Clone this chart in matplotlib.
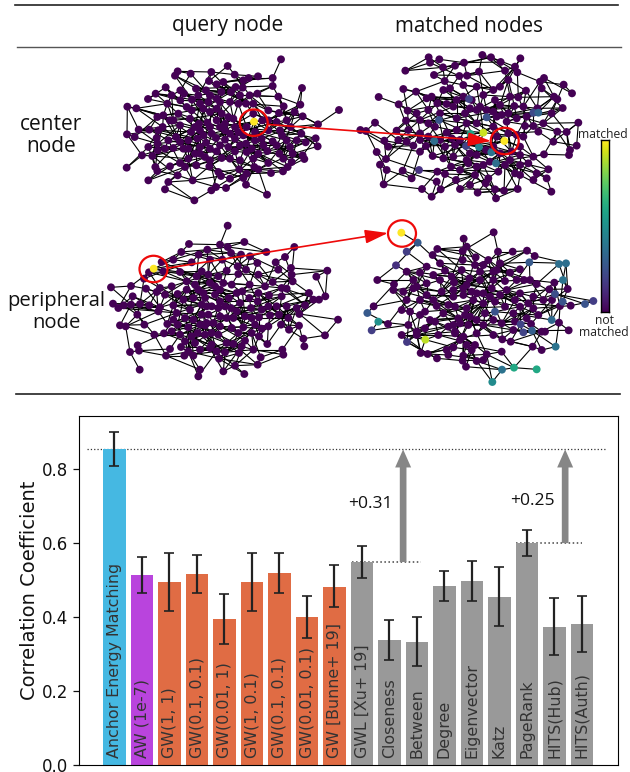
import numpy as np
import matplotlib
matplotlib.use("Agg")
import matplotlib.pyplot as plt
from matplotlib.patches import Ellipse

W, H = 630, 772
# ---------- bar chart data ----------
labels = ["Anchor Energy Matching", "AW (1e-7)", "GW(1, 1)", "GW(0.1, 0.1)", "GW(0.01, 1)", "GW(1, 0.1)",
          "GW(0.1, 0.1)", "GW(0.01, 0.1)", "GW [Bunne+ 19]", "GWL [Xu+ 19]", "Closeness", "Between",
          "Degree", "Eigenvector", "Katz", "PageRank", "HITS(Hub)", "HITS(Auth)"]
values = [0.853, 0.514, 0.495, 0.517, 0.395, 0.495, 0.519, 0.400, 0.481, 0.549, 0.338, 0.333,
          0.484, 0.498, 0.454, 0.600, 0.373, 0.382]
err_low = [0.809, 0.466, 0.416, 0.466, 0.327, 0.416, 0.466, 0.345, 0.427, 0.505, 0.284, 0.268,
           0.444, 0.443, 0.376, 0.566, 0.298, 0.306]
err_high = [0.900, 0.563, 0.572, 0.567, 0.462, 0.572, 0.574, 0.457, 0.540, 0.593, 0.393, 0.400,
            0.525, 0.552, 0.536, 0.635, 0.451, 0.456]
colors = ["#45B8E2", "#B944DD"] + ["#E06C44"] * 7 + ["#999999"] * 9

# ---------- network data (node positions, in crop pixels) ----------
g1 = [(483,22),(323,42),(173,58),(165,71),(212,65),(274,60),(344,68),(386,78),(370,85),(414,73),(458,78),(267,87),(228,110),(137,106),(107,125),(84,141),(22,164),(49,169),(155,130),(181,115),(192,125),(216,143),(258,115),(290,97),(310,90),(333,120),(347,105),(368,107),(458,102),(546,108),(475,134),(412,125),(389,130),(304,120),(270,130),(240,155),(142,155),(181,145),(200,165),(112,195),(130,190),(150,205),(175,185),(215,175),(250,170),(290,170),(300,150),(355,155),(378,155),(400,155),(445,175),(491,163),(541,158),(524,180),(548,193),(477,183),(657,174),(594,217),(427,205),(400,185),(380,225),(340,200),(315,215),(290,205),(262,212),(237,215),(210,200),(160,205),(88,233),(56,233),(21,247),(44,255),(115,235),(128,225),(180,220),(213,240),(240,235),(275,245),(315,235),(345,225),(405,240),(445,235),(480,235),(512,225),(544,245),(587,259),(593,283),(557,271),(530,265),(486,250),(458,268),(425,260),(405,265),(378,275),(345,260),(315,263),(288,258),(258,272),(232,260),(205,265),(168,255),(145,265),(110,258),(113,275),(85,285),(113,295),(135,290),(160,288),(205,290),(240,285),(290,298),(345,298),(380,300),(415,305),(442,297),(478,305),(510,285),(518,305),(548,310),(553,321),(515,330),(490,320),(445,333),(400,320),(360,325),(305,318),(270,325),(255,315),(205,320),(180,333),(150,343),(97,312),(66,310),(20,347),(106,345),(112,357),(85,385),(145,390),(135,412),(173,370),(195,345),(229,340),(268,343),(295,360),(303,372),(330,380),(358,352),(380,365),(370,378),(378,398),(318,408),(288,405),(274,415),(223,445),(218,385),(403,345),(415,352),(453,363),(489,358),(503,345),(441,428),
      (270,180),(305,185),(325,195),(300,225),(330,245),(355,240),(370,250),(270,225),(250,250),(225,225),(300,280),(325,285),(360,280),(395,290),(270,290),(225,305),(190,290),(180,270),(240,305),(330,320),(430,280),(470,280),(500,265),(330,150),(265,150),(235,130),(290,140),(360,130),(445,205),(470,210),(500,205)]
g1_hi = [(402,209,1.0)]

g2 = [(487,165),(326,172),(513,172),(358,178),(601,175),(330,188),(542,186),(432,188),(405,197),(369,202),(585,200),(256,212),(592,217),(555,212),(477,215),(342,225),(418,228),(441,227),(672,234),(660,245),(374,243),(565,240),(430,255),(250,267),(288,275),(731,254),(756,280),(370,270),(390,265),(470,260),(520,270),(540,260),(618,272),(665,265),(176,291),(320,295),(335,290),(430,290),(455,300),(490,285),(525,300),(570,290),(595,292),(702,290),(712,298),(236,313),(263,332),(325,330),(352,310),(380,312),(400,320),(450,325),(480,320),(540,315),(583,318),(728,324),(652,325),(620,350),(695,340),(565,340),(520,335),(435,340),(345,380),(325,370),(258,362),(165,368),(121,390),(138,393),(230,392),(265,390),(300,360),(410,355),(590,355),(560,365),(520,380),(380,398),(775,368),(740,396),(712,395),(670,370),(640,378),(615,378),(590,405),(655,395),(700,425),(770,437),(750,450),(747,465),(672,463),(640,470),(600,440),(565,400),(530,410),(235,420),(193,422),(205,440),(280,437),(318,438),(375,440),(405,435),(498,450),(450,460),(400,470),(370,475),(338,468),(300,455),(198,477),(170,456),(180,494),(200,510),(248,512),(352,515),(393,500),(445,490),(490,495),(570,480),(600,495),(625,490),(685,508),(650,520),(535,515),(505,535),(585,520),(600,525),(640,540),(680,535),(375,522),(408,540),(350,545),(275,535),(191,553),(306,567),(335,590),(362,568),(420,567),(450,555),(473,578),(497,550),(525,568),(552,572),(593,567),(694,575),(528,595),
      (410,390),(440,370),(470,370),(530,350),(545,345),(610,410),(420,420),(395,415),(360,420),(325,410),(300,400),(440,480),(470,465),(540,460),(575,455),(600,465),(510,485),(555,495),(420,510),(465,525),(520,440),(470,330),(410,300),(500,330),(610,320),(360,340),(290,340),(470,500),(300,420),(260,425)]
g2_hi = [(447,297,0.2),(357,360,0.26),(343,423,0.36),(452,402,0.58),(490,398,0.92),(553,423,1.0),(477,441,0.45),(514,457,0.38),(528,490,0.36),(500,352,0.25),(655,338,0.32),(640,338,0.22),(438,438,0.2),(297,510,0.14)]

g3 = [(368,23),(252,78),(345,80),(368,87),(418,72),(568,87),(229,102),(281,110),(307,95),(378,105),(408,110),(484,102),(540,117),(512,133),(457,135),(435,115),(205,125),(170,132),(132,163),(175,160),(117,182),(225,162),(260,133),(315,125),(352,125),(398,145),(365,158),(290,160),(275,175),(423,155),(400,168),(460,170),(520,155),(558,150),(560,170),(563,190),(667,158),(634,176),(503,192),(530,210),(545,212),(480,205),(460,225),(434,200),(380,200),(355,195),(330,205),(315,195),(270,200),(245,190),(200,205),(165,210),(123,212),(78,204),(18,208),(83,235),(155,222),(180,230),(218,228),(245,215),(280,215),(330,230),(345,250),(372,240),(412,220),(433,240),(458,250),(492,232),(530,235),(612,225),(625,245),(642,245),(661,235),(600,262),(575,270),(583,288),(699,305),(550,300),(522,290),(495,292),(462,298),(438,270),(405,255),(378,270),(345,295),(320,265),(290,260),(265,240),(235,245),(205,262),(165,268),(133,262),(105,258),(78,260),(56,262),(24,257),(40,270),(97,290),(160,280),(215,285),(255,275),(290,290),(305,315),(325,315),(365,300),(385,300),(415,328),(450,320),(470,332),(490,325),(528,320),(552,335),(582,323),(595,362),(660,352),(598,385),(532,395),(535,410),(487,378),(462,355),(440,345),(420,368),(385,378),(365,375),(340,350),(300,322),(250,328),(218,320),(187,318),(118,320),(62,325),(45,322),(177,346),(148,350),(200,340),(225,350),(278,345),(270,375),(98,382),(102,398),(75,402),(195,393),(228,387),(240,370),(285,395),(315,390),(335,400),(360,403),(402,405),(445,395),(467,418),(458,440),(390,443),(342,422),(285,455),(104,455),(183,413),(238,413),(265,413),(280,475),(355,460),(418,468),
      (300,240),(305,265),(310,290),(340,270),(360,265),(395,280),(420,295),(440,300),(380,330),(345,325),(285,320),(265,305),(240,300),(205,305),(320,345),(300,350),(260,355),(400,345),(470,275),(490,265),(515,265),(545,265),(340,175),(310,170),(295,225),(345,215),(395,225),(320,380),(250,400),(410,385)]
g3_hi = [(146,152,1.0)]

g4 = [(521,97),(431,116),(352,147),(440,140),(428,153),(534,155),(578,155),(621,152),(644,168),(338,165),(320,200),(428,180),(467,172),(490,195),(505,180),(540,190),(600,208),(260,215),(300,218),(375,212),(425,210),(480,215),(530,210),(570,218),(172,240),(222,253),(220,270),(280,240),(320,250),(360,240),(402,247),(448,235),(480,240),(520,240),(555,243),(590,240),(612,240),(630,240),(650,252),(703,248),(743,267),(688,268),(752,317),(696,300),(670,300),(640,290),(600,280),(560,270),(515,265),(470,280),(430,285),(400,290),(365,275),(320,285),(280,265),(250,275),(260,300),(300,300),(245,330),(270,335),(315,335),(350,318),(385,315),(440,325),(490,310),(555,320),(600,320),(640,325),(655,345),(720,318),(161,319),(204,372),(245,405),(265,375),(290,395),(315,385),(345,365),(385,380),(420,370),(450,350),(490,375),(520,360),(545,370),(585,365),(633,372),(717,368),(746,391),(665,395),(675,395),(580,390),(520,405),(470,400),(430,410),(405,400),(355,405),(290,405),(302,459),(323,462),(351,475),(385,465),(380,450),(400,442),(430,467),(428,482),(465,435),(455,450),(500,463),(490,480),(470,483),(438,500),(547,418),(572,425),(545,455),(638,440),(665,450),
      (400,270),(430,265),(455,275),(490,280),(510,290),(540,285),(585,300),(625,310),(460,300),(405,320),(435,345),(415,355),(400,375),(445,375),(470,360),(495,340),(525,305),(340,300),(370,340),(330,360),(300,345),(290,260),(340,225),(395,230),(440,255),(520,215),(465,195),(360,190),(405,395),(420,420),(440,435),(620,355),(580,340)]
g4_hi = [(244,98,1.0),(293,128,0.28),(260,155,0.18),(228,196,0.14),(628,187,0.28),(717,192,0.36),(738,190,0.36),(729,240,0.38),(705,282,0.24),(820,303,0.18),(795,312,0.26),(728,305,0.26),(525,335,0.26),(142,339,0.28),(175,365,0.5),(155,391,0.18),(602,373,0.2),(695,360,0.34),(636,392,0.3),(610,397,0.2),(261,426,0.17),(316,419,0.9),(707,440,0.38),(546,509,0.38),(582,503,0.6),(650,508,0.6),(517,546,0.48)]

origins = [(120, 52), (320, 0), (105, 218), (320, 200)]
link_ranks = [1, 6, 14, 30]
max_link = 42


def draw_graph(ax, nodes, hi, origin):
    pts = np.array(nodes + [(p[0], p[1]) for p in hi], float) / 3 + origin
    vals = np.array([0.0] * len(nodes) + [p[2] for p in hi])
    delta = pts[:, None] - pts[None, :]
    dist = np.hypot(delta[..., 0], delta[..., 1] * 1.5)
    order = np.argsort(dist, axis=1)
    seg = set()
    for i in range(len(pts)):
        for r in link_ranks:
            j = order[i, r]
            if r == 1 or dist[i, j] < max_link:
                seg.add((min(i, j), max(i, j)))
    for i, j in sorted(seg):
        ax.plot(pts[[i, j], 0], pts[[i, j], 1], color="black", lw=0.8, zorder=1, solid_capstyle="round")
    draw = np.argsort(vals)
    ax.scatter(pts[draw, 0], pts[draw, 1], c=vals[draw], cmap="viridis", vmin=0, vmax=1, s=32, linewidths=0, zorder=2)


fig = plt.figure(figsize=(W / 100, H / 100), dpi=100)
top = fig.add_axes([0, 0, 1, 1])
top.set_xlim(0, W)
top.set_ylim(H, 0)
top.axis("off")

for g, hi, o in zip((g1, g2, g3, g4), (g1_hi, g2_hi, g3_hi, g4_hi), origins):
    draw_graph(top, g, hi, o)

# rules
top.plot([15, 618], [5, 5], color="#222222", lw=1.2)
top.plot([17, 621], [46.5, 46.5], color="#555555", lw=1.0)
top.plot([16, 620], [393.5, 393.5], color="#222222", lw=1.2)

font = "Open Sans"
top.text(228, 26, "query node", ha="center", va="center", fontsize=15, family=font, color="#111111")
top.text(469, 26, "matched nodes", ha="center", va="center", fontsize=14.8, family=font, color="#111111")
top.text(51, 124, "center", ha="center", va="center", fontsize=15, family=font, color="#111111")
top.text(51, 146, "node", ha="center", va="center", fontsize=15, family=font, color="#111111")
top.text(56, 301, "peripheral", ha="center", va="center", fontsize=14.6, family=font, color="#111111")
top.text(56, 323, "node", ha="center", va="center", fontsize=14.6, family=font, color="#111111")

# circles and arrows
for cx, cy in [(253.7, 122.7), (504.7, 141), (153.5, 269), (402, 233.5)]:
    top.add_patch(Ellipse((cx, cy), 28, 26.5, fill=False, ec="#EE0A0A", lw=1.6, zorder=5))
for a, b in [((268, 124.5), (491, 141)), ((168, 268), (388, 233))]:
    top.annotate("", xy=b, xytext=a, zorder=5,
                 arrowprops=dict(arrowstyle="-|>,head_length=1.4,head_width=0.42", color="#EE0A0A", lw=1.2,
                                 shrinkA=0, shrinkB=0))

# colour bar
cax = fig.add_axes([600.7 / W, 1 - 311.7 / H, 8.3 / W, 171.7 / H])
cax.imshow(np.linspace(1, 0, 256)[:, None], aspect="auto", cmap="viridis")
cax.set_xticks([])
cax.set_yticks([])
for s in cax.spines.values():
    s.set_linewidth(1.0)
top.text(603, 134, "matched", ha="center", va="center", fontsize=8.7, family=font, color="#222222")
top.text(604, 320, "not", ha="center", va="center", fontsize=8.7, family=font, color="#222222")
top.text(604, 332, "matched", ha="center", va="center", fontsize=8.7, family=font, color="#222222")

# bars
ax = fig.add_axes([79 / W, 1 - 765.3 / H, (617.7 - 79) / W, (765.3 - 415.7) / H])
ax.patch.set_alpha(0)
xs = np.arange(len(labels))
ax.bar(xs, values, width=0.82, color=colors, zorder=2)
yerr = [np.array(values) - np.array(err_low), np.array(err_high) - np.array(values)]
ax.errorbar(xs, values, yerr=yerr, fmt="none", ecolor="#222222", elinewidth=1.6, capsize=3.4, capthick=1.2, zorder=3)
ax.set_xlim(-1.283, 18.3)
ax.set_ylim(0, 0.944)
ax.set_xticks([])
ax.set_yticks([0, 0.2, 0.4, 0.6, 0.8])
ax.tick_params(axis="y", labelsize=12, length=4, width=0.9, colors="#111111")
ax.set_ylabel("Correlation Coefficient", fontsize=14, color="#111111", labelpad=2)
for x, lab in zip(xs, labels):
    ax.text(x, 0.02, lab, rotation=90, ha="center", va="bottom", fontsize=11.4, color="#333333", zorder=4)

ax.plot([-0.98, 17.9], [values[0]] * 2, color="#333333", lw=0.9, ls=":", zorder=1)
ax.plot([xs[9] - 0.35, 11.15], [values[9]] * 2, color="#444444", lw=1.1, ls=":", zorder=1)
ax.plot([xs[15] - 0.4, 17.0], [values[15]] * 2, color="#444444", lw=1.1, ls=":", zorder=1)
for x, y0 in [(10.5, values[9]), (16.39, values[15])]:
    ax.annotate("", xy=(x, values[0]), xytext=(x, y0), zorder=2,
                arrowprops=dict(width=4.8, headwidth=11.5, headlength=13, color="#868686", shrink=0, lw=0))
ax.text(9.32, 0.705, "+0.31", ha="center", va="center", fontsize=12.6, family=font, color="#111111")
ax.text(15.2, 0.715, "+0.25", ha="center", va="center", fontsize=12.6, family=font, color="#111111")

fig.savefig("out.png", dpi=100)
